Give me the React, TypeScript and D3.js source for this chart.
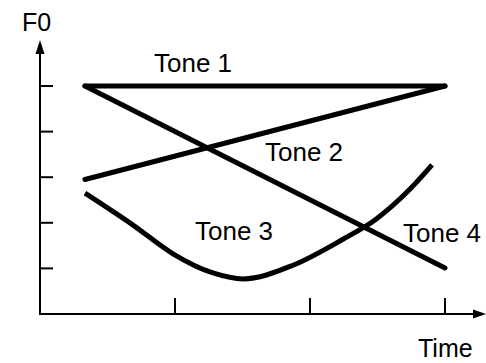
import React from "react";
import * as d3 from "d3";

const W = 486;
const H = 363;

const xTicks = [1, 2, 3];
const yTicks = [1, 2, 3, 4, 5];

const tone1 = [
  [0.333, 5],
  [3, 5],
];
const tone2 = [
  [0.333, 2.95],
  [3, 5],
];
const tone4 = [
  [0.333, 5],
  [3, 1.01],
];
const tone3 = [
  [0.333, 2.65],
  [0.689, 1.95],
  [0.985, 1.32],
  [1.281, 0.9],
  [1.504, 0.77],
  [1.874, 1.07],
  [2.244, 1.64],
  [2.489, 2.08],
  [2.741, 2.74],
  [2.904, 3.27],
];

const labels = [
  { text: "Tone 1", x: 154, y: 72 },
  { text: "Tone 2", x: 265, y: 161 },
  { text: "Tone 3", x: 195, y: 240 },
  { text: "Tone 4", x: 403, y: 242 },
];

export default function App() {
  const x = d3.scaleLinear().domain([0, 3]).range([40, 445]);
  const y = d3.scaleLinear().domain([0, 5]).range([314, 86]);
  const straight = d3
    .line<number[]>()
    .x((d) => x(d[0]))
    .y((d) => y(d[1]));
  const curved = d3
    .line<number[]>()
    .x((d) => x(d[0]))
    .y((d) => y(d[1]))
    .curve(d3.curveMonotoneX);
  const x0 = x(0);
  const y0 = y(0);
  const font = "Liberation Sans, Arial, sans-serif";
  return (
    <svg
      width={W}
      height={H}
      style={{ position: "absolute", left: 0, top: 0, background: "#fff" }}
    >
      {/* axes */}
      <line x1={x0} y1={y0} x2={x0} y2={52} stroke="#000" strokeWidth={2} />
      <polygon points={`${x0},40 ${x0 - 4.5},54 ${x0 + 4.5},54`} fill="#000" />
      <line x1={x0 - 1} y1={y0} x2={476} y2={y0} stroke="#000" strokeWidth={2} />
      <polygon points={`486,${y0} 473,${y0 - 4.5} 473,${y0 + 4.5}`} fill="#000" />
      {yTicks.map((t) => (
        <line key={"y" + t} x1={x0} x2={x0 + 13} y1={y(t)} y2={y(t)} stroke="#000" strokeWidth={2} />
      ))}
      {xTicks.map((t) => (
        <line key={"x" + t} x1={x(t)} x2={x(t)} y1={y0} y2={y0 - 16} stroke="#000" strokeWidth={2} />
      ))}
      {/* tones */}
      {[tone1, tone2, tone4].map((d, i) => (
        <path key={i} d={straight(d) || ""} fill="none" stroke="#000" strokeWidth={5} strokeLinecap="round" />
      ))}
      <path d={curved(tone3) || ""} fill="none" stroke="#000" strokeWidth={5} strokeLinecap="butt" />
      {labels.map((l) => (
        <text key={l.text} x={l.x} y={l.y} fontFamily={font} fontSize={26} fill="#000">
          {l.text}
        </text>
      ))}
      <text x={22} y={31} fontFamily={font} fontSize={25} fill="#000">
        F0
      </text>
      <text x={418} y={357} fontFamily={font} fontSize={25} fill="#000">
        Time
      </text>
    </svg>
  );
}
